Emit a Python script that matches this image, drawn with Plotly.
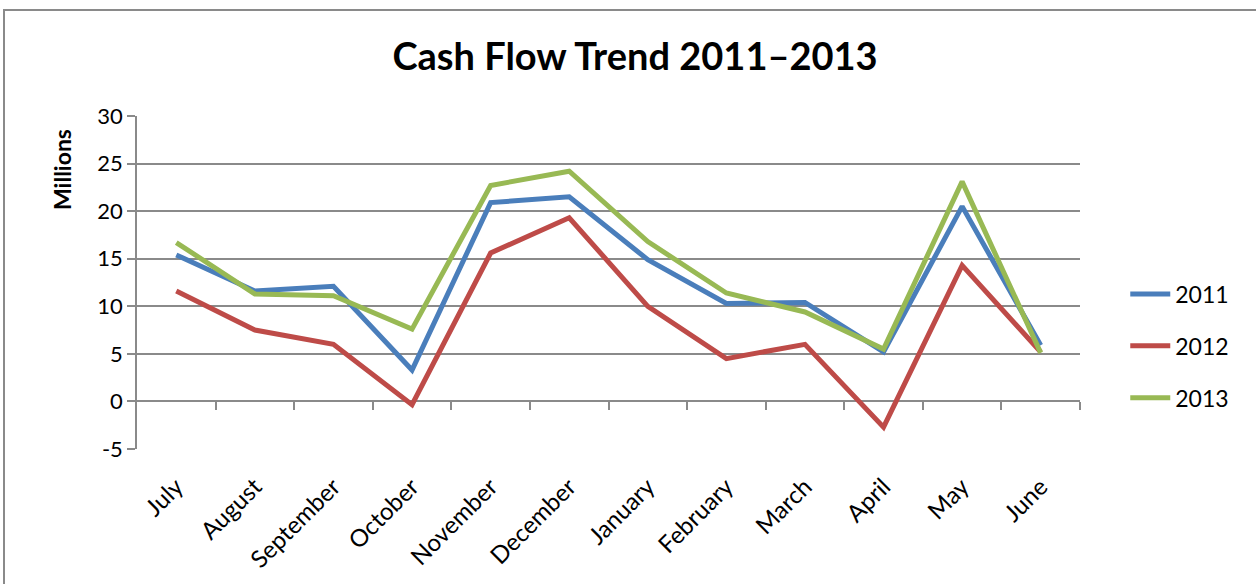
import plotly.graph_objects as go

months = ["July", "August", "September", "October", "November", "December",
          "January", "February", "March", "April", "May", "June"]
cf_2011 = [15.4, 11.6, 12.1, 3.3, 20.9, 21.5, 14.9, 10.3, 10.4, 5.2, 20.5, 5.9]
cf_2012 = [11.6, 7.5, 6.0, -0.35, 15.6, 19.3, 10.0, 4.5, 6.0, -2.7, 14.3, 5.2]
cf_2013 = [16.7, 11.3, 11.1, 7.6, 22.7, 24.2, 16.8, 11.4, 9.4, 5.5, 23.1, 5.1]
series = [("2011", cf_2011, "#4A7EBB"), ("2012", cf_2012, "#BE4B48"), ("2013", cf_2013, "#98B954")]
y_ticks = [-5, 0, 5, 10, 15, 20, 25, 30]
y_tick_text = ["-5", "0", "5", "10", "15", "20", "25", "30"]

FONT = "Lato"
GRID = "#8A8A8A"

fig = go.Figure()
for name, vals, col in series:
    fig.add_trace(go.Scatter(x=months, y=vals, name=name, mode="lines",
                             line=dict(color=col, width=5), legendgroup=name))

# boundary ticks along the zero line
bounds = [i + 0.5 for i in range(len(months))]
fig.add_trace(go.Scatter(x=[], y=[], xaxis="x2", yaxis="y", showlegend=False))

fig.update_layout(
    width=1256, height=584,
    margin=dict(l=137, r=176, t=116, b=135),
    paper_bgcolor="white", plot_bgcolor="white",
    font=dict(family=FONT, color="black"),
    title=dict(text="<b>Cash Flow Trend 2011–2013</b>", x=0.5056, xanchor="center",
               y=1 - 57 / 584, yanchor="middle", font=dict(size=38, family=FONT)),
    xaxis=dict(type="category", categoryorder="array", categoryarray=months,
               range=[-0.5, len(months) - 0.5],
               showgrid=False, zeroline=False, showline=False, ticks="",
               tickangle=-45, tickfont=dict(size=24), ticklabelstandoff=18),
    xaxis2=dict(overlaying="x", anchor="free", position=5 / 35, type="linear",
                range=[-0.5, len(months) - 0.5], tickmode="array", tickvals=bounds,
                ticks="outside", ticklen=8, tickwidth=1.5, tickcolor=GRID,
                showticklabels=False, showgrid=False, zeroline=False, showline=False),
    yaxis=dict(range=[-5, 30], tickmode="array", tickvals=y_ticks, ticktext=y_tick_text,
               showgrid=True, gridcolor=GRID, gridwidth=1.5,
               zeroline=True, zerolinecolor=GRID, zerolinewidth=2,
               showline=True, linecolor=GRID, linewidth=1.5,
               ticks="outside", ticklen=8, tickcolor=GRID, tickwidth=1.5,
               tickfont=dict(size=22)),
    annotations=[dict(text="<b>Millions</b>", xref="paper", yref="paper",
                      x=(62 - 137) / 943, y=(449 - 170) / 333, xanchor="center", yanchor="middle",
                      textangle=-90, showarrow=False, font=dict(size=23, family=FONT))],
    legend=dict(x=1.048, xanchor="left", y=0.53, yanchor="top",
                font=dict(size=23), tracegroupgap=19, itemwidth=40,
                bgcolor="rgba(0,0,0,0)"),
    shapes=[dict(type="rect", xref="paper", yref="paper",
                 x0=(4 - 137) / 943, x1=1.5, y0=-1, y1=(449 - 10) / 333,
                 line=dict(color="#8A8A8A", width=2), fillcolor="rgba(0,0,0,0)", layer="below")],
)

fig.write_html("out.html", config={"displayModeBar": False},
               post_script="document.body.style.margin='0';")
